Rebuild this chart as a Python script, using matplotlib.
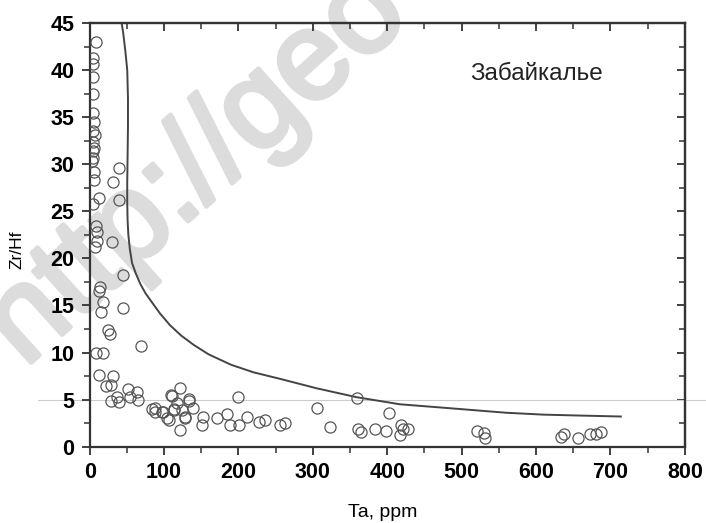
import matplotlib
matplotlib.use("Agg")
import matplotlib.pyplot as plt
import matplotlib.patheffects as pe
from matplotlib.ticker import MultipleLocator
from matplotlib.transforms import blended_transform_factory

plt.rcParams['font.family'] = ['Liberation Sans', 'DejaVu Sans']

# точки: Ta (ppm) и Zr/Hf
ta = [9, 4, 4, 4, 4, 4, 6, 5, 7, 5, 6, 4, 5, 3, 6, 40, 6, 32, 12, 4, 39,
      9, 10, 10, 7, 30, 45, 14, 13, 18, 15, 45, 25, 28, 69, 9, 18,
      12, 31, 22, 29, 29, 37, 39, 52, 54, 63, 65,
      84, 88, 97, 104, 111, 122, 117, 113, 124, 128, 133, 122,
      110, 133, 200, 88, 99, 113, 139, 106, 128, 152, 151, 171, 184, 189, 201,
      212, 227, 236, 256, 262,
      305, 323, 359, 361, 365, 383, 399, 403, 417, 421, 428, 419,
      520, 530, 531, 634, 638, 656, 672, 681, 688]
zrhf = [43.0, 41.3, 40.6, 39.3, 37.5, 35.4, 34.5, 33.5, 33.1, 32.4, 31.7, 31.4, 30.7, 30.3, 29.2, 29.6, 28.3, 28.1, 26.4, 25.8, 26.2,
        23.4, 22.8, 21.8, 21.2, 21.7, 18.2, 17.0, 16.5, 15.4, 14.3, 14.7, 12.4, 12.0, 10.7, 10.0, 10.0,
        7.6, 7.5, 6.4, 6.5, 4.9, 5.3, 4.7, 6.1, 5.3, 5.8, 5.0,
        4.0, 3.7, 3.7, 3.0, 5.4, 6.2, 4.6, 3.9, 3.9, 3.2, 4.9, 1.75,
        5.5, 5.1, 5.3, 4.1, 3.7, 4.0, 4.1, 2.8, 3.0, 3.2, 2.3, 3.0, 3.5, 2.3, 2.3,
        3.2, 2.6, 2.8, 2.35, 2.5,
        4.1, 2.1, 5.2, 1.9, 1.6, 1.9, 1.7, 3.6, 1.2, 1.9, 1.9, 2.3,
        1.7, 1.4, 0.9, 1.05, 1.3, 0.9, 1.3, 1.3, 1.6]

# граничная кривая
curve_ta = [43, 45, 48, 50.5, 51.5, 51.5, 51, 50.5, 50.5, 51, 52, 54, 57, 62,
            68, 75, 84, 95, 108, 123, 140, 160, 190, 220, 256, 305, 359,
            417, 497, 560, 610, 660, 714]
curve_zrhf = [45, 44, 42, 40, 37, 34, 31, 28, 26, 24, 22.5, 21, 19.5, 18.4,
              17.3, 16.3, 15.3, 14.1, 12.9, 11.8, 10.8, 9.8, 8.7, 7.9, 7.2, 6.2, 5.25,
              4.5, 4.0, 3.6, 3.4, 3.3, 3.2]

fig = plt.figure(figsize=(7.06, 5.23), dpi=100)
ax = fig.add_axes([0.127, 0.146, 0.843, 0.810])
ax.set_facecolor('none')

# водяной знак
fig.text(0.035, 0.296, "http://geo", fontsize=90, color='#dcdcdc', rotation=42,
         rotation_mode='anchor', ha='left', va='baseline', zorder=-1,
         path_effects=[pe.withStroke(linewidth=3.5, foreground='#dcdcdc')])

trans = blended_transform_factory(fig.transFigure, ax.transData)
ax.plot([0.054, 1.0], [5, 5], transform=trans, color='#cccccc', lw=0.8,
        clip_on=False, zorder=1)

ax.plot(curve_ta, curve_zrhf, color='#444444', lw=1.4, zorder=2)
ax.plot(ta, zrhf, 'o', mfc='none', mec='#555555', mew=0.9, ms=8, zorder=3)

ax.text(512, 38.9, "Забайкалье", fontsize=17.5, color='#222222', va='baseline')

ax.set_xlim(0, 800)
ax.set_ylim(0, 45)
ax.xaxis.set_major_locator(MultipleLocator(100))
ax.xaxis.set_minor_locator(MultipleLocator(50))
ax.yaxis.set_major_locator(MultipleLocator(5))
ax.yaxis.set_minor_locator(MultipleLocator(2.5))
ax.tick_params(which='both', direction='out', color='#333333',
               top=False, right=False)
ax.tick_params(which='major', length=6, width=1.3, labelsize=15.5, pad=5)
ax.tick_params(which='minor', length=4, width=1.1)
for t in ax.get_xticklabels() + ax.get_yticklabels():
    t.set_fontweight('bold')
for sp in ax.spines.values():
    sp.set_linewidth(1.6)
    sp.set_color('#333333')

# верх и право — тики внутрь
ax2 = ax.secondary_xaxis('top')
ax2.xaxis.set_major_locator(MultipleLocator(100))
ax2.xaxis.set_minor_locator(MultipleLocator(50))
ax2.tick_params(which='both', direction='in', labeltop=False, color='#333333')
ax2.tick_params(which='major', length=6, width=1.3)
ax2.tick_params(which='minor', length=4, width=1.1)
ax2.spines['top'].set_linewidth(1.6)
ax2.spines['top'].set_color('#333333')
ax3 = ax.secondary_yaxis('right')
ax3.yaxis.set_major_locator(MultipleLocator(5))
ax3.yaxis.set_minor_locator(MultipleLocator(2.5))
ax3.tick_params(which='both', direction='in', labelright=False, color='#333333')
ax3.tick_params(which='major', length=6, width=1.3)
ax3.tick_params(which='minor', length=4, width=1.1)
ax3.spines['right'].set_linewidth(1.6)
ax3.spines['right'].set_color('#333333')

ax.set_xlabel("Ta, ppm", fontsize=14)
ax.set_ylabel("Zr/Hf", fontsize=12.5)
ax.xaxis.set_label_coords(0.493, -0.135)
ax.yaxis.set_label_coords(-0.11, 0.464)

fig.savefig("out.png", dpi=100)
